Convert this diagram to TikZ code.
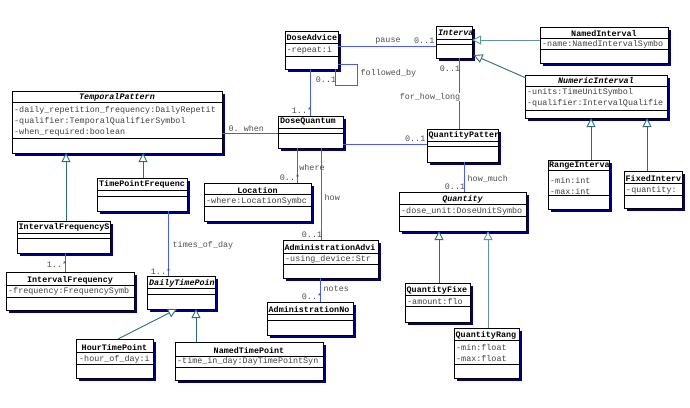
\documentclass[tikz,border=0pt]{standalone}
\usepackage{fontspec}
\setmonofont{Liberation Mono}
\usetikzlibrary{shadows,arrows.meta}
\definecolor{shadowblue}{HTML}{000080}
\definecolor{assoccol}{HTML}{4A5CF0}
\definecolor{inhcol}{HTML}{2E6E6E}
\definecolor{inhlight}{HTML}{5F9595}
\definecolor{lblgray}{HTML}{505050}
\tikzset{
 cls/.style={draw=black, fill=white, inner sep=0pt, outer sep=0pt, line width=0.9pt,
   drop shadow={shadow xshift=3pt, shadow yshift=-3pt, fill=shadowblue, opacity=1}},
 sepline/.style={draw=black, line width=0.7pt},
 ttl/.style={font=\ttfamily\bfseries\fontsize{8.4}{10}\selectfont, inner sep=0pt, text=black},
 ttli/.style={font=\ttfamily\bfseries\itshape\fontsize{8.4}{10}\selectfont, inner sep=0pt, text=black},
 attr/.style={font=\ttfamily\fontsize{8.4}{10}\selectfont, inner sep=0pt, text=black!75},
 lbl/.style={font=\ttfamily\fontsize{8.4}{10}\selectfont, inner sep=0.5pt, text=lblgray},
 assocline/.style={draw=assoccol, line width=0.9pt},
 inhline/.style={draw=inhcol, line width=0.9pt, -{Triangle[open, width=9pt, length=9pt, fill=white]}},
}
\newcommand{\umlcls}[7]{%
 \node[cls, minimum width=#4pt, minimum height=#5pt, anchor=north west] (#1) at (#2,#3) {};
 \draw[sepline] ([yshift=-#6pt]#1.north west) -- ([yshift=-#6pt]#1.north east);
 \draw[sepline] ([yshift=-#7pt]#1.north west) -- ([yshift=-#7pt]#1.north east);}
\begin{document}
\begin{tikzpicture}[x=1pt,y=-1pt]
\useasboundingbox[fill=white] (0,0) rectangle (690,407);
% classes
\umlcls{da}{285}{31}{53}{38}{12}{25}
\umlcls{iv}{436}{26}{36}{32}{13}{18}
\umlcls{ni}{540}{27}{128}{36}{11}{22}
\umlcls{nu}{525}{75}{142}{43}{11}{35}
\umlcls{tp}{12}{91}{210}{62}{11}{47}
\umlcls{dq}{278}{116}{65}{32}{12}{17}
\umlcls{qp}{427}{129}{71}{33}{12}{17}
\umlcls{lo}{204}{183}{107}{38}{11}{23}
\umlcls{aa}{283}{240}{95}{38}{13}{24}
\umlcls{an}{267}{302}{86}{33}{12}{18}
\umlcls{qu}{399}{192}{127}{39}{12}{24}
\umlcls{qf}{405}{283}{65}{39}{12}{23}
\umlcls{qr}{454}{328}{65}{50}{12}{36}
\umlcls{ri}{548}{160}{61}{49}{10}{35}
\umlcls{fi}{624}{171}{58}{37}{12}{24}
\umlcls{tf}{97}{178}{90}{33}{12}{18}
\umlcls{is}{17}{221}{93}{32}{12}{17}
\umlcls{if}{6}{272}{128}{38}{13}{25}
\umlcls{dt}{147}{276}{68}{33}{12}{18}
\umlcls{ht}{76}{339}{77}{39}{13}{25}
\umlcls{nt}{175}{342}{148}{38}{14}{25}
% texts
\node[ttl, anchor=west] (da-t) at (286.5,37) {DoseAdvice};
\node[attr, anchor=west] (da-a) at (286.5,50) {-repeat:i};
\node[ttli, anchor=west] (iv-t) at (438,33) {Interva};
\node[ttl] (ni-t) at (604,33) {NamedInterval};
\node[attr, anchor=west] (ni-a) at (542,44) {-name:NamedIntervalSymbo};
\node[ttli] (nu-t) at (596,80.5) {NumericInterval};
\node[attr, anchor=west] (nu-a1) at (527,92) {-units:TimeUnitSymbol};
\node[attr, anchor=west] (nu-a2) at (527,103) {-qualifier:IntervalQualifie};
\node[ttli] (tp-t) at (117,97) {TemporalPattern};
\node[attr, anchor=west] (tp-a1) at (14,110) {-daily\_repetition\_frequency:DailyRepetit};
\node[attr, anchor=west] (tp-a2) at (14,121.5) {-qualifier:TemporalQualifierSymbol};
\node[attr, anchor=west] (tp-a3) at (14,132.5) {-when\_required:boolean};
\node[ttl, anchor=west] (dq-t) at (280,122) {DoseQuantum};
\node[ttl, anchor=west] (qp-t) at (428.5,135) {QuantityPatter};
\node[ttl] (lo-t) at (257.5,190) {Location};
\node[attr, anchor=west] (lo-a) at (206,201.5) {-where:LocationSymbc};
\node[ttl, anchor=west] (aa-t) at (284.5,247.5) {AdministrationAdvi};
\node[attr, anchor=west] (aa-a) at (285,259) {-using\_device:Str};
\node[ttl, anchor=west] (an-t) at (268.5,309) {AdministrationNo};
\node[ttli] (qu-t) at (462.5,199.5) {Quantity};
\node[attr, anchor=west] (qu-a) at (401,211.5) {-dose\_unit:DoseUnitSymbo};
\node[ttl, anchor=west] (qf-t) at (406.5,290.5) {QuantityFixe};
\node[attr, anchor=west] (qf-a) at (407,301.5) {-amount:flo};
\node[ttl, anchor=west] (qr-t) at (455.5,335.5) {QuantityRang};
\node[attr, anchor=west] (qr-a1) at (456,347.5) {-min:float};
\node[attr, anchor=west] (qr-a2) at (456,358.5) {-max:float};
\node[ttl, anchor=west] (ri-t) at (549,166) {RangeInterva};
\node[attr, anchor=west] (ri-a1) at (550,180.5) {-min:int};
\node[attr, anchor=west] (ri-a2) at (550,191) {-max:int};
\node[ttl, anchor=west] (fi-t) at (625.5,178) {FixedInterv};
\node[attr, anchor=west] (fi-a) at (626,190) {-quantity:};
\node[ttl, anchor=west] (tf-t) at (99,184.5) {TimePointFrequenc};
\node[ttl, anchor=west] (is-t) at (18.5,227.5) {IntervalFrequencyS};
\node[ttl] (if-t) at (70,280) {IntervalFrequency};
\node[attr, anchor=west] (if-a) at (8,291.5) {-frequency:FrequencySymb};
\node[ttli, anchor=west] (dt-t) at (149,283) {DailyTimePoin};
\node[ttl] (ht-t) at (114.5,347.5) {HourTimePoint};
\node[attr, anchor=west] (ht-a) at (79,359) {-hour\_of\_day:i};
\node[ttl] (nt-t) at (249,350) {NamedTimePoint};
\node[attr, anchor=west] (nt-a) at (177,361.5) {-time\_in\_day:DayTimePointSyn};
% associations
\draw[assocline] ([yshift=4pt]da.east) -- ([yshift=-4pt]iv.west);
\draw[assocline] ([yshift=-14pt]da.east) -- ++(19,0) |- ([xshift=23.5pt,yshift=-16pt]da.south) -- ([xshift=23.5pt]da.south);
\draw[assocline] ([xshift=-1.5pt]da.south) -- ([xshift=-0.5pt]dq.north);
\draw[assocline] ([xshift=5pt]iv.south) -- ([xshift=-3.5pt]qp.north);
\draw[assocline] ([yshift=-12pt]dq.east) -- ([yshift=1.5pt]qp.west);
\draw[assocline] ([yshift=-1pt]dq.west) -- ([yshift=-11pt]tp.east);
\draw[assocline] ([xshift=-13.5pt]dq.south) -- ([xshift=39.5pt]lo.north);
\draw[assocline] ([xshift=10.5pt]dq.south) -- ([xshift=-9.5pt]aa.north);
\draw[assocline] ([xshift=-10.5pt]aa.south) -- ([xshift=10pt]an.north);
\draw[assocline] ([xshift=1.5pt]qp.south) -- ([xshift=1.5pt]qu.north);
\draw[assocline] ([xshift=26pt]tf.south) -- ([xshift=-13pt]dt.north);
\draw[assocline] ([xshift=1.5pt]is.south) -- ([xshift=-5pt]if.north);
% generalisations
\draw[inhline, draw=inhlight] ([yshift=5pt]ni.west) -- ([yshift=2pt]iv.east);
\draw[inhline] ([xshift=1pt,yshift=-3pt]nu.north west) -- ([xshift=1.5pt,yshift=3pt]iv.south east);
\draw[inhline] ([xshift=12.5pt]ri.north) -- ([xshift=-5pt]nu.south);
\draw[inhline] ([xshift=-6pt]fi.north) -- ([xshift=51pt]nu.south);
\draw[inhline] ([xshift=2.5pt]is.north) -- ([xshift=-51pt]tp.south);
\draw[inhline] ([xshift=1pt]tf.north) -- ([xshift=26pt]tp.south);
\draw[inhline] ([xshift=1.5pt]qf.north) -- ([xshift=-23.5pt]qu.south);
\draw[inhline, draw=inhlight] ([xshift=1.5pt]qr.north) -- ([xshift=25.5pt]qu.south);
\draw[inhline] ([xshift=3.5pt]ht.north) -- ([xshift=-4pt]dt.south);
\draw[inhline] ([xshift=-53pt]nt.north) -- ([xshift=15pt]dt.south);
% labels
\node[lbl] (l-pause) at (388,41) {pause};
\node[lbl, anchor=east] (l-pm) at (435,41) {0..1};
\node[lbl, anchor=west] (l-fb) at (360,73) {followed\_by};
\node[lbl] (l-fbm) at (326,80) {0..1};
\node[lbl] (l-dqm) at (302,110) {1..*};
\node[lbl] (l-ivm) at (450,69) {0..1};
\node[lbl, fill=white] (l-fhl) at (430,97) {for\_how\_long};
\node[lbl, anchor=east] (l-qpm) at (426,139) {0..1};
\node[lbl, anchor=west] (l-when) at (228,128) {0. when};
\node[lbl] (l-where) at (312,167) {where};
\node[lbl] (l-lom) at (290,177) {0..*};
\node[lbl, anchor=west] (l-how) at (324,197) {how};
\node[lbl] (l-aam) at (312,235) {0..1};
\node[lbl, anchor=west] (l-notes) at (323,289) {notes};
\node[lbl] (l-anm) at (312,296) {0..*};
\node[lbl, anchor=west] (l-hm) at (467,179) {how\_much};
\node[lbl] (l-qum) at (455,187) {0..1};
\node[lbl, anchor=west] (l-tod) at (172,245) {times\_of\_day};
\node[lbl] (l-dtm) at (161,271) {1..*};
\node[lbl] (l-ifm) at (57,264) {1..*};
\end{tikzpicture}
\end{document}
